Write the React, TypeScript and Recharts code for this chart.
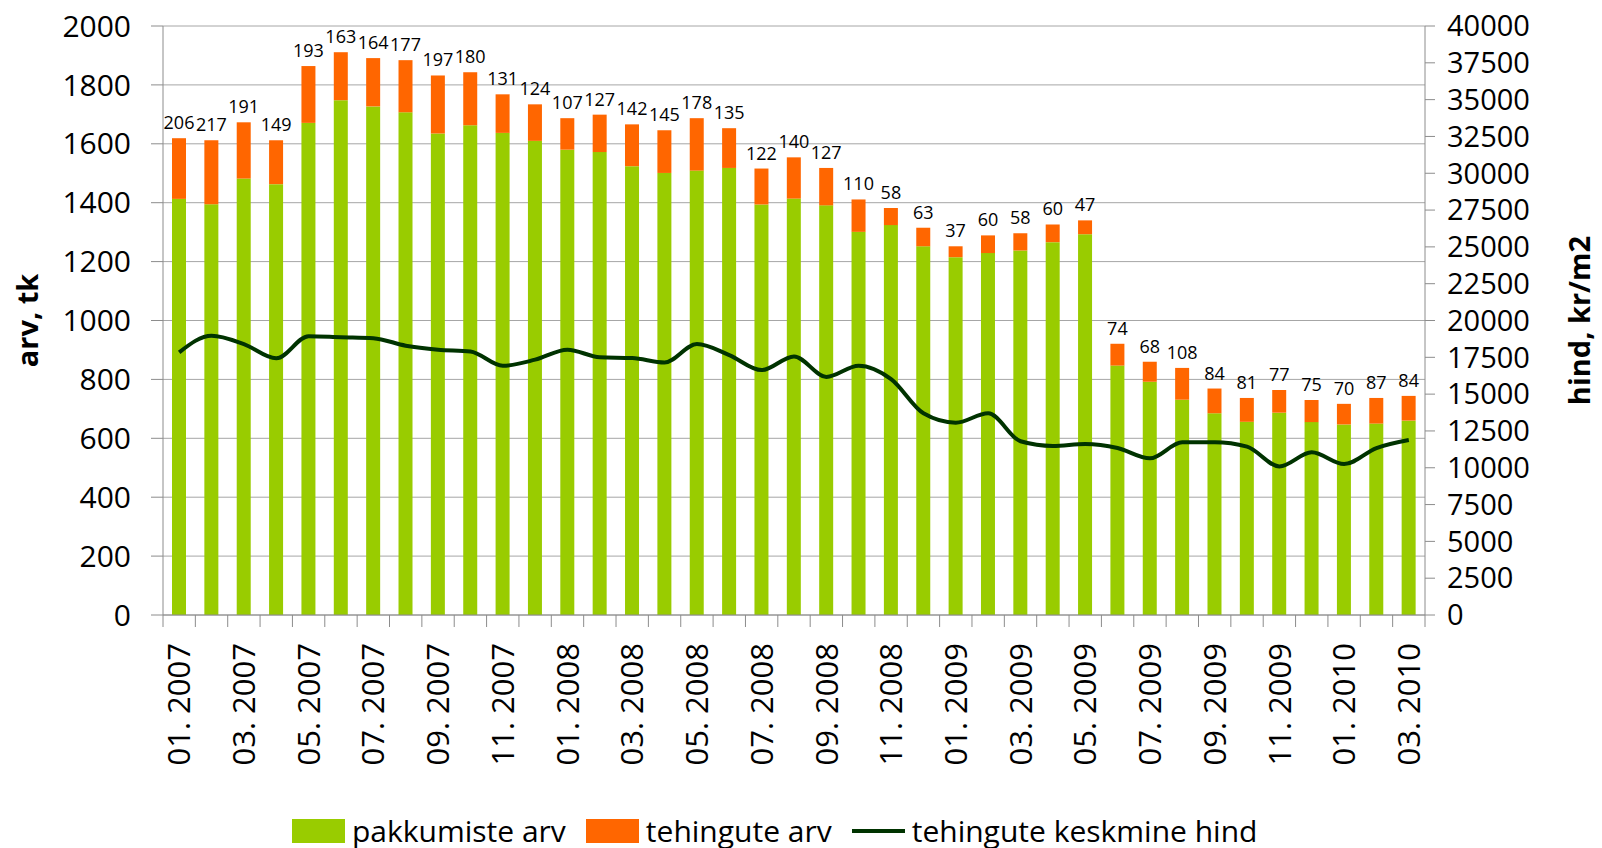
import { ComposedChart, Bar, Line, XAxis, YAxis, CartesianGrid, Legend, LabelList } from 'recharts';

const months = [
  '01. 2007', '02. 2007', '03. 2007', '04. 2007', '05. 2007', '06. 2007', '07. 2007', '08. 2007', '09. 2007', '10. 2007', '11. 2007', '12. 2007',
  '01. 2008', '02. 2008', '03. 2008', '04. 2008', '05. 2008', '06. 2008', '07. 2008', '08. 2008', '09. 2008', '10. 2008', '11. 2008', '12. 2008',
  '01. 2009', '02. 2009', '03. 2009', '04. 2009', '05. 2009', '06. 2009', '07. 2009', '08. 2009', '09. 2009', '10. 2009', '11. 2009', '12. 2009',
  '01. 2010', '02. 2010', '03. 2010',
];

// pakkumiste arv (green part of the stack)
const offers = [
  1413, 1395, 1482, 1463, 1671, 1748, 1727, 1707, 1635, 1663, 1637, 1610,
  1580, 1572, 1524, 1501, 1509, 1518, 1394, 1414, 1391, 1301, 1324, 1252,
  1215, 1229, 1238, 1266, 1293, 847, 792, 731, 685, 656, 687, 655,
  647, 650, 660,
];

// tehingute arv (orange part, also the labels)
const deals = [
  206, 217, 191, 149, 193, 163, 164, 177, 197, 180, 131, 124,
  107, 127, 142, 145, 178, 135, 122, 140, 127, 110, 58, 63,
  37, 60, 58, 60, 47, 74, 68, 108, 84, 81, 77, 75,
  70, 87, 84,
];

// tehingute keskmine hind, kr/m2
const avgPrice = [
  17840, 18970, 18400, 17430, 18930, 18860, 18800, 18290, 18020, 17900, 16930, 17340,
  18020, 17500, 17450, 17150, 18400, 17650, 16630, 17560, 16170, 16930, 16020, 13700,
  13060, 13700, 11800, 11480, 11610, 11340, 10640, 11730, 11730, 11430, 10090, 11050,
  10250, 11340, 11890,
];

const leftTicks = [0, 200, 400, 600, 800, 1000, 1200, 1400, 1600, 1800, 2000];
const rightTicks = [
  0, 2500, 5000, 7500, 10000, 12500, 15000, 17500, 20000,
  22500, 25000, 27500, 30000, 32500, 35000, 37500, 40000,
];

const data = months.map((month, i) => ({
  month,
  pakkumised: offers[i],
  tehingud: deals[i],
  hind: avgPrice[i],
}));

const FONT = '"Open Sans", sans-serif';
const GREEN = '#99CC00';
const ORANGE = '#FF6600';
const LINE = '#003300';
const AXIS = '#8c8c8c';

const MonthTick = (props: any) => {
  const { x, y, payload, index } = props;
  const half = payload?.offset ?? 16.2;
  const last = index === months.length - 1;
  return (
    <g>
      <line x1={x - half} x2={x - half} y1={y} y2={y + 12} stroke={AXIS} />
      {last && <line x1={x + half} x2={x + half} y1={y} y2={y + 12} stroke={AXIS} />}
      {index % 2 === 0 && (
        <text
          x={x}
          y={y + 28}
          dy="0.36em"
          transform={`rotate(-90, ${x}, ${y + 28})`}
          textAnchor="end"
          fontSize={31}
          fontFamily={FONT}
          fill="#000"
        >
          {payload.value}
        </text>
      )}
    </g>
  );
};

const AxisTitle = (props: any) => {
  const { viewBox, text, dx } = props;
  const cx = viewBox.x + dx;
  const cy = viewBox.y + viewBox.height / 2;
  return (
    <text
      x={cx}
      y={cy}
      transform={`rotate(-90, ${cx}, ${cy})`}
      textAnchor="middle"
      dominantBaseline="central"
      fontSize={29}
      fontWeight="bold"
      fontFamily={FONT}
      fill="#000"
    >
      {text}
    </text>
  );
};

const legendItems = [
  { name: 'pakkumiste arv', color: GREEN, kind: 'rect' },
  { name: 'tehingute arv', color: ORANGE, kind: 'rect' },
  { name: 'tehingute keskmine hind', color: LINE, kind: 'line' },
];

const renderLegend = () => (
  <div style={{ display: 'flex', alignItems: 'center', height: 24, marginTop: 17, paddingLeft: 292 }}>
    {legendItems.map((item) => (
      <div key={item.name} style={{ display: 'flex', alignItems: 'center', marginRight: 20 }}>
        <svg width={53} height={24} style={{ display: 'block' }}>
          {item.kind === 'rect' ? (
            <rect x={0} y={0} width={53} height={24} fill={item.color} />
          ) : (
            <line x1={0} x2={53} y1={12} y2={12} stroke={item.color} strokeWidth={4} />
          )}
        </svg>
        <span style={{ marginLeft: 7, fontSize: 30, fontFamily: FONT, color: '#000', lineHeight: '24px' }}>
          {item.name}
        </span>
      </div>
    ))}
  </div>
);

export default function App() {
  return (
    <div style={{ position: 'absolute', left: 0, top: 0, background: '#fff' }}>
      <ComposedChart
        width={1602}
        height={848}
        data={data}
        margin={{ top: 26, right: 0, bottom: 0, left: 0 }}
      >
        <CartesianGrid yAxisId="left" vertical={false} stroke="#a6a6a6" />
        <XAxis
          dataKey="month"
          interval={0}
          height={187}
          tickLine={false}
          tickSize={0}
          tickMargin={0}
          axisLine={{ stroke: AXIS }}
          tick={<MonthTick />}
        />
        <YAxis
          yAxisId="left"
          width={163}
          domain={[0, 2000]}
          ticks={leftTicks}
          interval={0}
          tickSize={12}
          tickMargin={20}
          axisLine={{ stroke: AXIS }}
          tickLine={{ stroke: AXIS }}
          tick={{ fill: '#000', fontSize: 30, fontFamily: FONT }}
          label={<AxisTitle text="arv, tk" dx={26} />}
        />
        <YAxis
          yAxisId="right"
          orientation="right"
          width={177}
          domain={[0, 40000]}
          ticks={rightTicks}
          interval={0}
          tickSize={10}
          tickMargin={12}
          axisLine={{ stroke: AXIS }}
          tickLine={{ stroke: AXIS }}
          tick={{ fill: '#000', fontSize: 29, fontFamily: FONT }}
          label={<AxisTitle text="hind, kr/m2" dx={153} />}
        />
        <Legend verticalAlign="bottom" height={46} content={renderLegend} />
        <Bar
          yAxisId="left"
          dataKey="pakkumised"
          stackId="a"
          fill={GREEN}
          barSize={14}
          name="pakkumiste arv"
          isAnimationActive={false}
        />
        <Bar
          yAxisId="left"
          dataKey="tehingud"
          stackId="a"
          fill={ORANGE}
          barSize={14}
          name="tehingute arv"
          isAnimationActive={false}
        >
          <LabelList
            dataKey="tehingud"
            position="top"
            offset={9}
            fill="#000"
            fontSize={18}
            fontFamily={FONT}
          />
        </Bar>
        <Line
          yAxisId="right"
          type="monotone"
          dataKey="hind"
          stroke={LINE}
          strokeWidth={4}
          dot={false}
          activeDot={false}
          name="tehingute keskmine hind"
          isAnimationActive={false}
        />
      </ComposedChart>
    </div>
  );
}
